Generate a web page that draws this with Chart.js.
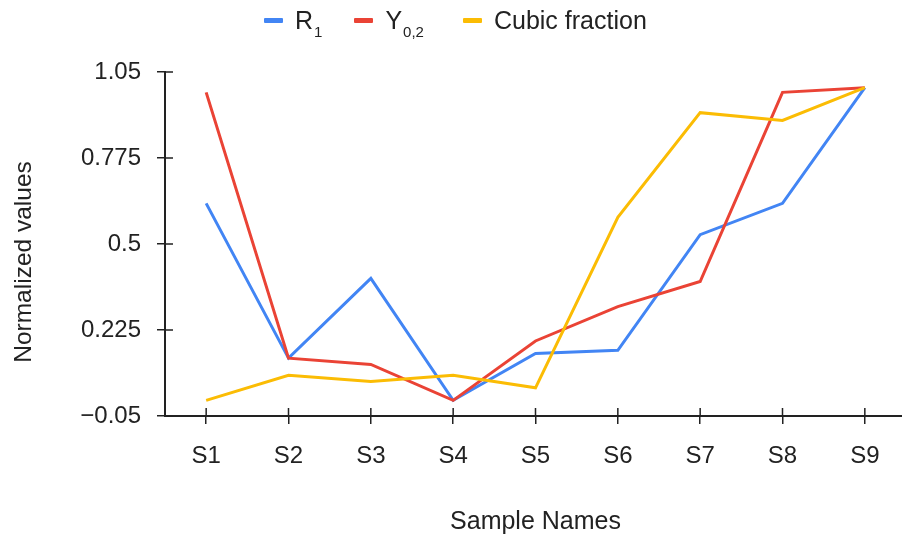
<!DOCTYPE html>
<html>
<head>
<meta charset="utf-8">
<title>Normalized values</title>
<script src="https://cdn.jsdelivr.net/npm/chart.js@4.4.0/dist/chart.umd.min.js"></script>
<style>
	html, body { margin: 0; padding: 0; background: #fff; overflow: hidden; }
	#wrap { position: relative; width: 906px; height: 538px; }
	#legend {
		position: absolute; top: 6px; left: 264px;
		display: flex; align-items: center; white-space: nowrap;
		font: 25px "Liberation Sans", Arial, sans-serif; color: #222;
	}
	#legend .item { display: flex; align-items: center; margin-right: 32px; }
	#legend .item:nth-child(2) { margin-right: 39px; }
	#legend .sw { width: 19px; height: 5px; margin-right: 12px; border-radius: 1px; }
	#legend sub { font-size: 15px; vertical-align: -8px; line-height: 0; margin-left: 1px; }
</style>
</head>
<body>
<div id="wrap">
	<canvas id="chart" width="906" height="538"></canvas>
	<div id="legend"></div>
</div>
<script>
const categories	= ['S1', 'S2', 'S3', 'S4', 'S5', 'S6', 'S7', 'S8', 'S9'];
const r1Values		= [0.63, 0.135, 0.39, 0.0, 0.15, 0.16, 0.53, 0.63, 1.0];
const y02Values		= [0.985, 0.135, 0.115, 0.0, 0.19, 0.30, 0.38, 0.985, 1.0];
const cubicValues	= [0.0, 0.08, 0.06, 0.08, 0.04, 0.585, 0.92, 0.895, 1.0];
const yTicks		= [-0.05, 0.225, 0.5, 0.775, 1.05];
const yTickLabels	= ['\u22120.05', '0.225', '0.5', '0.775', '1.05'];
const seriesNames	= ['R', 'Y', 'Cubic fraction'];
const seriesSubs	= ['1', '0,2', ''];
const seriesColors	= ['#4285F4', '#EA4335', '#FBBC04'];

;(function (window, document, undefined) {
	'use strict';

	let RC = {};
	let ink = '#222';
	let family = '"Liberation Sans", Arial, sans-serif';

	// tick marks poke into the plot too, not only outward
	RC.InnerTicks = {
		id: 'innerTicks',
		beforeDatasetsDraw: function (chart) {
			let ctx	= chart.ctx;
			let x	= chart.scales.x;
			let y	= chart.scales.y;
			ctx.save();
			ctx.strokeStyle	= ink;
			ctx.lineWidth	= 1.5;
			ctx.beginPath();
			x.ticks.forEach(function (t, i) {
				let px = x.getPixelForTick(i);
				ctx.moveTo(px, x.top);
				ctx.lineTo(px, x.top - 8);
			});
			y.ticks.forEach(function (t, i) {
				let py = y.getPixelForTick(i);
				ctx.moveTo(y.right, py);
				ctx.lineTo(y.right + 8, py);
			});
			ctx.stroke();
			ctx.restore();
		}
	};

	// y title sits a bit below the middle of the plot, so it is drawn here
	RC.YTitle = {
		id: 'yTitle',
		afterDraw: function (chart) {
			let ctx = chart.ctx;
			ctx.save();
			ctx.translate(24, 262);
			ctx.rotate(-Math.PI / 2);
			ctx.fillStyle = ink;
			ctx.font = '24.5px ' + family;
			ctx.textAlign = 'center';
			ctx.textBaseline = 'middle';
			ctx.fillText('Normalized values', 0, 0);
			ctx.restore();
		}
	};

	RC.Legend = function () {
		let box = document.getElementById('legend');
		seriesNames.forEach(function (name, i) {
			let item = document.createElement('span');
			item.className = 'item';
			let sw = document.createElement('span');
			sw.className = 'sw';
			sw.style.background = seriesColors[i];
			let txt = document.createElement('span');
			txt.textContent = name;
			if (seriesSubs[i]) {
				let sub = document.createElement('sub');
				sub.textContent = seriesSubs[i];
				txt.appendChild(sub);
			}
			item.appendChild(sw);
			item.appendChild(txt);
			box.appendChild(item);
		});
	};

	RC.Chart = function () {
		let values = [r1Values, y02Values, cubicValues];
		let datasets = values.map(function (v, i) {
			return {
				label: seriesNames[i] + seriesSubs[i],
				data: v,
				borderColor: seriesColors[i],
				backgroundColor: seriesColors[i],
				borderWidth: 3,
				pointRadius: 0,
				tension: 0,
				order: 2 - i
			};
		});

		let axisGrid = { drawOnChartArea: false, tickLength: 8, color: ink, lineWidth: 1.5 };
		let axisBorder = { color: ink, width: 2 };

		new Chart(document.getElementById('chart'), {
			type: 'line',
			data: { labels: categories, datasets: datasets },
			options: {
				responsive: false,
				animation: false,
				events: [],
				layout: { padding: { top: 72, right: 0, bottom: 0, left: 0 } },
				plugins: { legend: { display: false }, tooltip: { enabled: false } },
				scales: {
					x: {
						type: 'category',
						offset: true,
						grid: axisGrid,
						border: axisBorder,
						ticks: { color: ink, font: { family: family, size: 24 }, padding: 18, maxRotation: 0 },
						title: {
							display: true, text: 'Sample Names', color: ink,
							font: { family: family, size: 25 }, padding: { top: 0, bottom: 1 }
						},
						afterFit: function (s) { s.height = 122; }
					},
					y: {
						min: -0.05,
						max: 1.05,
						afterBuildTicks: function (s) {
							s.ticks = yTicks.map(function (v) { return { value: v }; });
						},
						grid: axisGrid,
						border: axisBorder,
						ticks: {
							color: ink, font: { family: family, size: 24 }, padding: 16,
							callback: function (v, i) { return yTickLabels[i]; }
						},
						title: { display: false },
						afterFit: function (s) { s.width = 165; }
					}
				}
			},
			plugins: [RC.InnerTicks, RC.YTitle]
		});
	};

	RC.Legend();
	RC.Chart();

})(window, document);
</script>
</body>
</html>
